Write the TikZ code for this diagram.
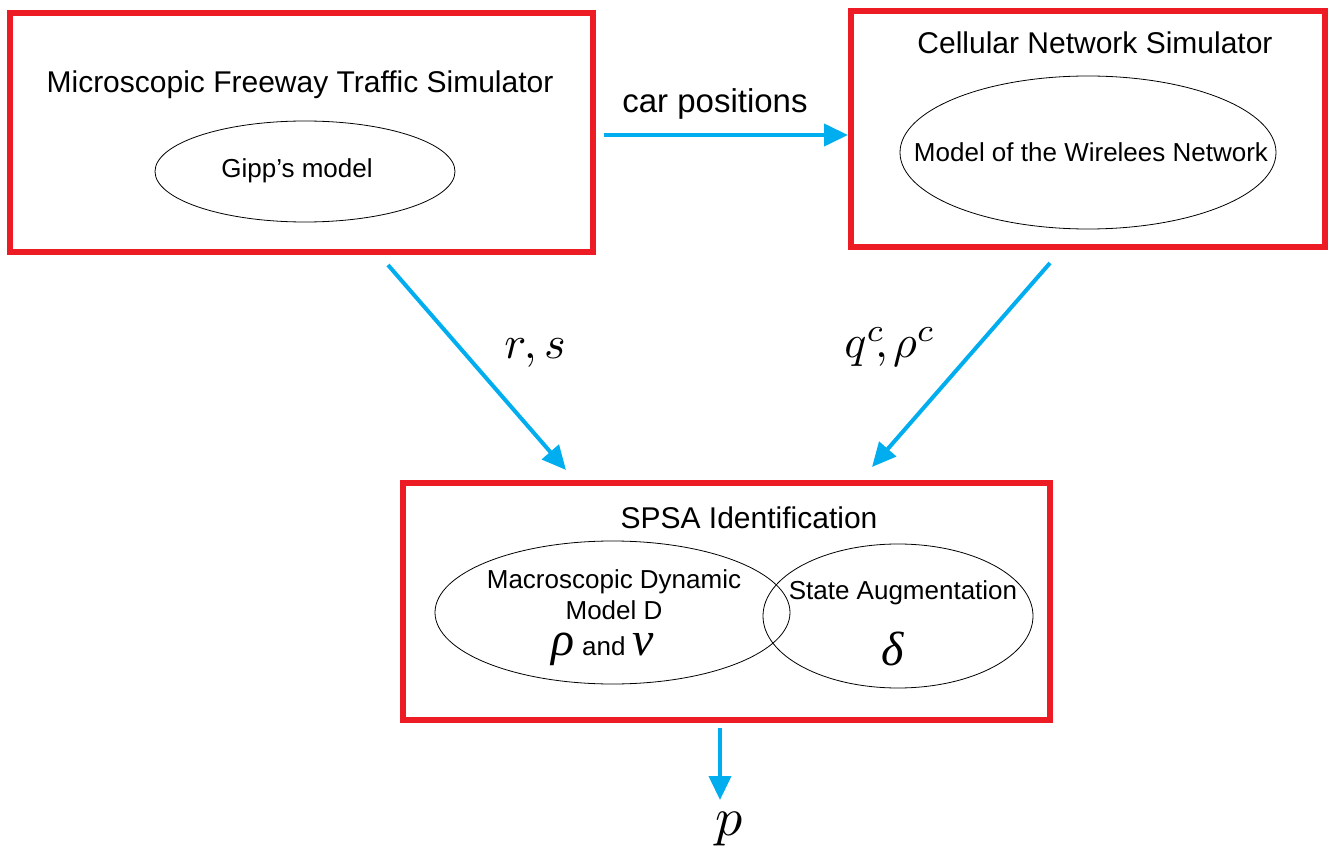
\documentclass[tikz,border=0pt]{standalone}
\usepackage{graphicx}
\usepackage[no-math]{fontspec}
\setmainfont{Liberation Sans}
\newfontfamily\symserif{Liberation Serif}
\usetikzlibrary{arrows.meta,shapes.geometric}
\definecolor{boxred}{RGB}{237,28,36}
\definecolor{flowcyan}{RGB}{0,174,239}
\newcommand{\bigsym}[1]{{\symserif\itshape\fontsize{48}{54}\selectfont #1}}
\newcommand{\bigmath}[2][4.6]{\scalebox{#1}{\normalsize$#2$}}

\begin{document}
\begin{tikzpicture}[x=1pt,y=-1pt,
  simbox/.style={draw=boxred,line width=6pt,inner sep=0pt},
  model/.style={draw=black,ellipse,line width=0.8pt,inner sep=0pt},
  flow/.style={draw=flowcyan,line width=4pt,
    -{Triangle[length=24pt,width=22pt]}},
  title/.style={font=\fontsize{30}{36}\selectfont,inner sep=0pt},
  inner/.style={font=\fontsize{26}{31}\selectfont,inner sep=0pt},
  flowlabel/.style={font=\fontsize{33}{40}\selectfont,inner sep=0pt},
  mathlabel/.style={inner sep=0pt}]
\useasboundingbox (0,0) rectangle (1331,850);

% the three simulator / identification blocks
\node[simbox,minimum width=583pt,minimum height=239pt] (traffic) at (301.5,132.5) {};
\node[simbox,minimum width=474pt,minimum height=236pt] (cellular) at (1088,129) {};
\node[simbox,minimum width=647pt,minimum height=237pt] (spsa) at (726.5,601.5) {};

% traffic simulator
\node[title] (traffictitle) at (300,85) {Microscopic Freeway Traffic Simulator};
\node[model,minimum width=300pt,minimum height=101pt] (gipps) at (305,171.5) {};
\node[inner] (gippstext) at (297,171) {Gipp’s model};

% cellular network simulator
\node[title] (celltitle) at (1095,43) {Cellular Network Simulator};
\node[model,minimum width=376pt,minimum height=153pt] (wireless) at (1088,152.5) {};
\node[inner] (wirelesstext) at (1091,152) {Model of the Wirelees Network};

% SPSA identification
\node[title] (spsatitle) at (749,518) {SPSA Identification};
\node[model,minimum width=355pt,minimum height=143pt] (macro) at (612.5,612.5) {};
\node[model,minimum width=270pt,minimum height=144pt] (augment) at (898,616) {};
\node[inner] (macrotext1) at (614,582) {Macroscopic Dynamic};
\node[inner] (macrotext2) at (614,610) {Model D};
\node[inner,anchor=base] (macrotext3) at (603,655)
  {\bigsym{ρ} and \bigsym{v}\vphantom{\fontsize{26}{31}\selectfont and}};
\node[inner] (augtext) at (903,593) {State Augmentation};
\node[inner,anchor=base] (augdelta) at (893,665) {\bigsym{δ}};

% connector end points
\coordinate (cp-from) at (604,135);
\coordinate (cp-to) at (848,135);
\coordinate (rs-from) at (388,265);
\coordinate (rs-to) at (566,470);
\coordinate (qc-from) at (1050,263);
\coordinate (qc-to) at (872,467);
\coordinate (p-from) at (720,728);
\coordinate (p-to) at (720,800);

\draw[flow] (cp-from) -- (cp-to);
\draw[flow] (rs-from) -- (rs-to);
\draw[flow] (qc-from) -- (qc-to);
\draw[flow] (p-from) -- (p-to);

% connector labels
\node[flowlabel] (cplabel) at (715,104) {car positions};
\node[mathlabel,anchor=base] (rslabel) at (535,359) {\bigmath{r,s}};
\node[mathlabel,anchor=base] (qclabel) at (890,358) {\bigmath{q^c\mkern-4mu,\mkern-1mu\rho^c}};
\node[mathlabel,anchor=base] (plabel) at (729,835) {\bigmath[5.4]{p}};
\end{tikzpicture}
\end{document}
